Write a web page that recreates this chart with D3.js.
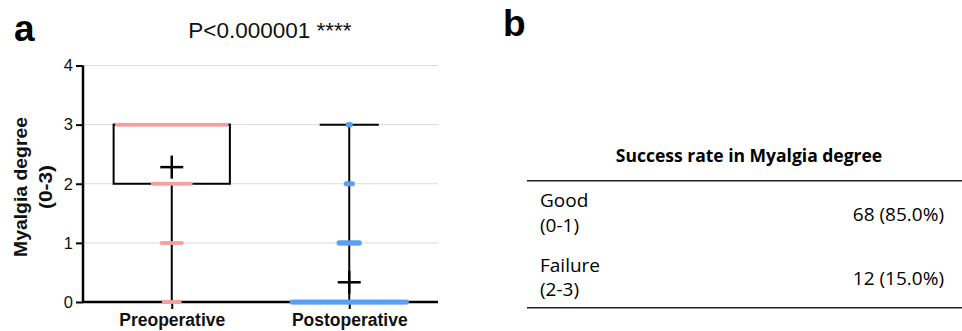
<!DOCTYPE html>
<html>
<head>
<meta charset="utf-8">
<script src="https://cdn.jsdelivr.net/npm/d3@7"></script>
<style>
  html, body { margin: 0; padding: 0; background: #fff; }
  svg { display: block; }
</style>
</head>
<body>
<svg id="chart" width="962" height="331"></svg>
<script>
// ---------- DATA ----------
const groups = ["Preoperative", "Postoperative"];
const levels = [0, 1, 2, 3];                 // myalgia degree values
const preopCounts = [9, 11, 20, 56];          // patients at degree 0,1,2,3
const postopCounts = [58, 11, 4, 2];
const yTicks = [0, 1, 2, 3, 4];
const titleText = "P<0.000001 ****";
const yTitle = ["Myalgia degree", "(0-3)"];
const tableTitle = "Success rate in Myalgia degree";
const tableLabels = [["Good", "(0-1)"], ["Failure", "(2-3)"]];
const tableValues = ["68 (85.0%)", "12 (15.0%)"];

// ---------- helpers ----------
function expand(counts) {
  const out = [];
  counts.forEach((c, i) => { for (let k = 0; k < c; k++) out.push(levels[i]); });
  return out;
}
function stats(arr) {
  const s = arr.slice().sort(d3.ascending);
  return {
    min: d3.min(s), max: d3.max(s),
    q1: d3.quantileSorted(s, 0.25), med: d3.quantileSorted(s, 0.5), q3: d3.quantileSorted(s, 0.75),
    mean: d3.mean(s)
  };
}
const groupData = [
  { name: groups[0], counts: preopCounts, values: expand(preopCounts), color: "#f5a0a0", r: 2.0 },
  { name: groups[1], counts: postopCounts, values: expand(postopCounts), color: "#58a0f2", r: 2.6 }
];
groupData.forEach(g => g.stats = stats(g.values));

// ---------- layout ----------
const svg = d3.select("#chart");
const plot = { left: 83, right: 438, top: 65.5, bottom: 302 };
const sans = "Liberation Sans, Arial, sans-serif";

const x = d3.scalePoint().domain(groups).range([plot.left, plot.right]).padding(0.5);
const y = d3.scaleLinear().domain([0, 4]).range([plot.bottom, plot.top]);
const step = x.step();

// gridlines
svg.append("g").selectAll("line").data(yTicks.filter(d => d > 0)).join("line")
  .attr("x1", plot.left).attr("x2", plot.right)
  .attr("y1", d => y(d)).attr("y2", d => y(d))
  .attr("stroke", "#dcdcdc").attr("stroke-width", 1);

// box + whiskers
const boxW = step * 0.655, capW = step / 3;
const bx = svg.append("g");
groupData.forEach(g => {
  const cx = x(g.name), s = g.stats;
  bx.append("line").attr("x1", cx).attr("x2", cx).attr("y1", y(s.min)).attr("y2", y(s.q1))
    .attr("stroke", "#000").attr("stroke-width", 2);
  bx.append("line").attr("x1", cx).attr("x2", cx).attr("y1", y(s.q3)).attr("y2", y(s.max))
    .attr("stroke", "#000").attr("stroke-width", 2);
  [s.min, s.max].forEach(v => {
    bx.append("line").attr("x1", cx - capW / 2).attr("x2", cx + capW / 2)
      .attr("y1", y(v)).attr("y2", y(v)).attr("stroke", "#000").attr("stroke-width", 2);
  });
  if (s.q3 > s.q1) {
    bx.append("rect").attr("x", cx - boxW / 2).attr("width", boxW)
      .attr("y", y(s.q3)).attr("height", y(s.q1) - y(s.q3))
      .attr("fill", "none").attr("stroke", "#000").attr("stroke-width", 2);
    bx.append("line").attr("x1", cx - boxW / 2).attr("x2", cx + boxW / 2)
      .attr("y1", y(s.med)).attr("y2", y(s.med)).attr("stroke", "#000").attr("stroke-width", 2);
  }
});

// axes
const yAxis = d3.axisLeft(y).tickValues(yTicks).tickSize(7).tickPadding(3).tickFormat(d3.format("d"));
const yg = svg.append("g").attr("transform", `translate(${plot.left},0)`).call(yAxis);
yg.select(".domain").attr("stroke", "#000").attr("stroke-width", 2.5).attr("d", `M0,${plot.top}V${plot.bottom}`);
yg.selectAll(".tick line").attr("stroke", "#000").attr("stroke-width", 2);
yg.selectAll(".tick text").attr("font-family", sans).attr("font-size", 16.5).attr("fill", "#111");

const xAxis = d3.axisBottom(x).tickSize(7).tickPadding(5);
const xg = svg.append("g").attr("transform", `translate(0,${plot.bottom})`).call(xAxis);
xg.select(".domain").attr("stroke", "#000").attr("stroke-width", 2.5).attr("d", `M${plot.left},0H${plot.right}`);
xg.selectAll(".tick line").attr("stroke", "#000").attr("stroke-width", 2);
xg.selectAll(".tick text").attr("font-family", sans)
  .attr("font-size", 17.5).attr("font-weight", "bold").attr("fill", "#111");

// dots (horizontal scatter)
const dotStep = 2.0;
const dg = svg.append("g");
groupData.forEach(g => {
  const cx = x(g.name);
  const pts = [];
  g.counts.forEach((c, i) => {
    for (let k = 0; k < c; k++) pts.push({ v: levels[i], off: (k - (c - 1) / 2) * dotStep });
  });
  dg.append("g").selectAll("circle").data(pts).join("circle")
    .attr("cx", d => cx + d.off).attr("cy", d => y(d.v)).attr("r", g.r)
    .attr("fill", g.color);
});

// mean crosses
const crossW = 23;
groupData.forEach(g => {
  const cx = x(g.name), cy = y(g.stats.mean);
  svg.append("line").attr("x1", cx - crossW / 2).attr("x2", cx + crossW / 2).attr("y1", cy).attr("y2", cy)
    .attr("stroke", "#000").attr("stroke-width", 2.5);
  svg.append("line").attr("x1", cx).attr("x2", cx).attr("y1", cy - crossW / 2).attr("y2", cy + crossW / 2)
    .attr("stroke", "#000").attr("stroke-width", 2.5);
});

// y title
const yt = svg.append("text").attr("transform", "translate(26.5,187) rotate(-90)")
  .attr("text-anchor", "middle").attr("font-family", sans)
  .attr("font-size", 18).attr("font-weight", "bold").attr("fill", "#111");
yt.append("tspan").attr("x", 0).attr("dy", 0).attr("textLength", 140)
  .attr("lengthAdjust", "spacingAndGlyphs").text(yTitle[0]);
yt.append("tspan").attr("x", 0).attr("dy", 25).attr("textLength", 44)
  .attr("lengthAdjust", "spacingAndGlyphs").text(yTitle[1]);

// chart title
svg.append("text").attr("x", 270).attr("y", 38).attr("text-anchor", "middle")
  .attr("font-family", sans).attr("font-size", 22.5)
  .attr("fill", "#111").text(titleText);

// panel labels
svg.append("text").attr("x", 14).attr("y", 41).attr("font-family", sans)
  .attr("font-size", 37).attr("font-weight", "bold").attr("fill", "#000").text("a");
svg.append("text").attr("x", 503).attr("y", 36).attr("font-family", sans)
  .attr("font-size", 37).attr("font-weight", "bold").attr("fill", "#000").text("b");

// ---------- table ----------
const tf = "Open Sans, Lato, sans-serif";
const tbl = svg.append("g");
tbl.append("text").attr("x", 749).attr("y", 161.5).attr("text-anchor", "middle")
  .attr("font-family", tf).attr("font-size", 17.5).attr("font-weight", "bold").attr("fill", "#000")
  .text(tableTitle);
tbl.append("line").attr("x1", 527).attr("x2", 962).attr("y1", 180.7).attr("y2", 180.7)
  .attr("stroke", "#222").attr("stroke-width", 1.6);
tbl.append("line").attr("x1", 527).attr("x2", 962).attr("y1", 307.8).attr("y2", 307.8)
  .attr("stroke", "#222").attr("stroke-width", 1.6);
const rowBase = [207.3, 271.7];
tableLabels.forEach((lab, i) => {
  const t = tbl.append("text").attr("font-family", tf).attr("font-size", 19).attr("fill", "#000");
  t.append("tspan").attr("x", 540).attr("y", rowBase[i]).text(lab[0]);
  t.append("tspan").attr("x", 540).attr("y", rowBase[i] + 24.5).text(lab[1]);
  tbl.append("text").attr("x", 944).attr("y", rowBase[i] + 13.5).attr("text-anchor", "end")
    .attr("font-family", tf).attr("font-size", 19).attr("fill", "#000").text(tableValues[i]);
});
</script>
</body>
</html>
